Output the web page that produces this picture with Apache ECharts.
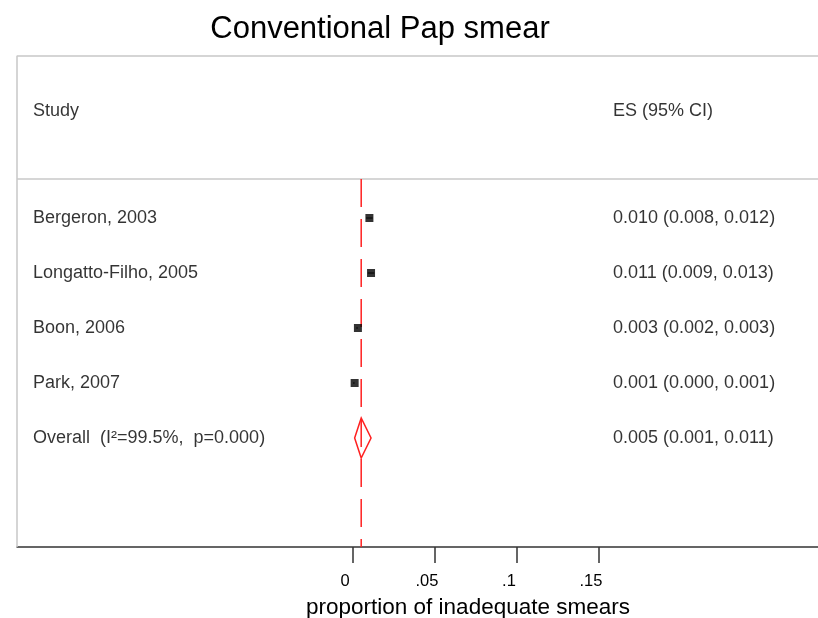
<!DOCTYPE html>
<html>
<head>
<meta charset="utf-8">
<script src="https://cdn.jsdelivr.net/npm/echarts@6/dist/echarts.min.js"></script>
<style>html,body{margin:0;padding:0;background:#fff}#c{width:818px;height:618px}</style>
</head>
<body>
<div id="c"></div>
<script>
// ---- data ----
const chartTitle = 'Conventional Pap smear';
const xTitle = 'proportion of inadequate smears';
const headerLeft = 'Study';
const headerRight = 'ES (95% CI)';
const studies = ['Bergeron, 2003', 'Longatto-Filho, 2005', 'Boon, 2006', 'Park, 2007'];
const esVals = [0.010, 0.011, 0.003, 0.001];
const loVals = [0.008, 0.009, 0.002, 0.000];
const hiVals = [0.012, 0.013, 0.003, 0.001];
const overallLabel = 'Overall  (I\u00b2=99.5%,  p=0.000)';
const overallES = 0.005;
const overallLo = 0.001;
const overallHi = 0.011;
const tickValues = [0, 0.05, 0.1, 0.15];
const tickLabels = ['0', '.05', '.1', '.15'];

// ---- layout ----
const W = 818, H = 618;
const gridLeft = 17, gridRightPx = 818, gridTop = 56, gridBottomPx = 547;
const zeroPx = 353, pxPerUnit = 1640;        // x scale
const row1Px = 218, rowPx = 55;               // y scale (row units)
const xMin = (gridLeft - zeroPx) / pxPerUnit;
const xMax = (gridRightPx - zeroPx) / pxPerUnit;
const yMin = 1 + (gridTop - row1Px) / rowPx;
const yMax = 1 + (gridBottomPx - row1Px) / rowPx;
const sepRow = 1 + (179 - row1Px) / rowPx;
const headerRow = 1 + (111 - row1Px) / rowPx;
const nameX = (33 - zeroPx) / pxPerUnit;
const esX = (613 - zeroPx) / pxPerUnit;
const diamondHalf = 20 / rowPx;
const FONT = "'Liberation Sans', Arial, sans-serif";
const TXT = '#000';
const RED = '#ff2020';
const FRAME = '#c8c8c8';

const fmt = v => v.toFixed(3);
const rowsText = studies.concat([overallLabel]);
const esText = esVals.map((v, i) => fmt(v) + ' (' + fmt(loVals[i]) + ', ' + fmt(hiVals[i]) + ')')
  .concat([fmt(overallES) + ' (' + fmt(overallLo) + ', ' + fmt(overallHi) + ')']);

const textStyle = {color: TXT, fontFamily: FONT, fontSize: 18};

const chart = echarts.init(document.getElementById('c'), null, {renderer: 'canvas'});
chart.setOption({
  animation: false,
  backgroundColor: '#fff',
  title: [
    {text: chartTitle, left: 375, top: 9, textAlign: 'center',
     textStyle: {color: TXT, fontFamily: FONT, fontSize: 31, fontWeight: 'normal'}},
    {text: xTitle, left: 463, top: 591, textAlign: 'center',
     textStyle: {color: TXT, fontFamily: FONT, fontSize: 22.5, fontWeight: 'normal'}}
  ],
  grid: {left: gridLeft, top: gridTop, right: W - gridRightPx, bottom: H - gridBottomPx, show: false},
  xAxis: {
    type: 'value', min: xMin, max: xMax, splitLine: {show: false},
    axisLine: {show: true, onZero: false, lineStyle: {color: '#333', width: 1.5}},
    axisTick: {show: true, customValues: tickValues, length: 16, lineStyle: {color: '#333', width: 1.5}},
    axisLabel: {show: true, customValues: tickValues, margin: 26, fontSize: 16.5, fontFamily: FONT, color: TXT,
                padding: [0, 16, 0, 0],
                formatter: v => { const k = tickValues.findIndex(t => Math.abs(t - v) < 1e-9); return k >= 0 ? tickLabels[k] : ''; }}
  },
  yAxis: {type: 'value', inverse: true, min: yMin, max: yMax, show: false},
  series: [
    { // frame: top and left edges
      type: 'line', silent: true, symbol: 'none', clip: false, z: 1,
      lineStyle: {color: FRAME, width: 1.5},
      data: [[xMax, yMin], [xMin, yMin], [xMin, yMax]]
    },
    { // header separator
      type: 'line', silent: true, symbol: 'none', clip: false, z: 1,
      lineStyle: {color: FRAME, width: 1.5},
      data: [[xMin, sepRow], [xMax, sepRow]]
    },
    { // overall ES reference line
      type: 'line', silent: true, symbol: 'none', z: 2,
      lineStyle: {color: RED, width: 1.5, type: [28, 12]},
      data: [[overallES, sepRow], [overallES, yMax]]
    },
    { // headers
      type: 'scatter', symbolSize: 0, silent: true,
      data: [{value: [nameX, headerRow], name: headerLeft}, {value: [esX, headerRow], name: headerRight}],
      label: {show: true, position: 'right', distance: 0, formatter: p => p.name, ...textStyle}
    },
    { // study names
      type: 'scatter', symbolSize: 0, silent: true,
      data: rowsText.map((t, i) => ({value: [nameX, i + 1], name: t})),
      label: {show: true, position: 'right', distance: 0, formatter: p => p.name, ...textStyle}
    },
    { // ES text
      type: 'scatter', symbolSize: 0, silent: true,
      data: esText.map((t, i) => ({value: [esX, i + 1], name: t})),
      label: {show: true, position: 'right', distance: 0, formatter: p => p.name, ...textStyle}
    },
    { // CI lines
      type: 'custom', silent: true, z: 3,
      data: esVals.map((v, i) => [loVals[i], hiVals[i], i + 1]),
      renderItem: (params, api) => {
        const a = api.coord([api.value(0), api.value(2)]);
        const b = api.coord([api.value(1), api.value(2)]);
        return {type: 'line', shape: {x1: a[0], y1: a[1], x2: b[0], y2: b[1]}, style: {stroke: '#000', lineWidth: 1}};
      }
    },
    { // study markers
      type: 'scatter', symbol: 'rect', symbolSize: 8, z: 4, silent: true,
      itemStyle: {color: '#000'},
      data: esVals.map((v, i) => [v, i + 1])
    },
    { // overall diamond
      type: 'custom', silent: true, z: 3,
      data: [[overallLo, overallES, overallHi, studies.length + 1]],
      renderItem: (params, api) => {
        const r = api.value(3);
        const l = api.coord([api.value(0), r]);
        const c = api.coord([api.value(1), r]);
        const h = api.coord([api.value(2), r]);
        const t = api.coord([api.value(1), r - diamondHalf]);
        const b = api.coord([api.value(1), r + diamondHalf]);
        return {type: 'polygon', shape: {points: [[l[0], c[1]], [c[0], t[1]], [h[0], c[1]], [c[0], b[1]]]},
                style: {fill: 'none', stroke: RED, lineWidth: 1.5}};
      }
    }
  ]
});
</script>
</body>
</html>
